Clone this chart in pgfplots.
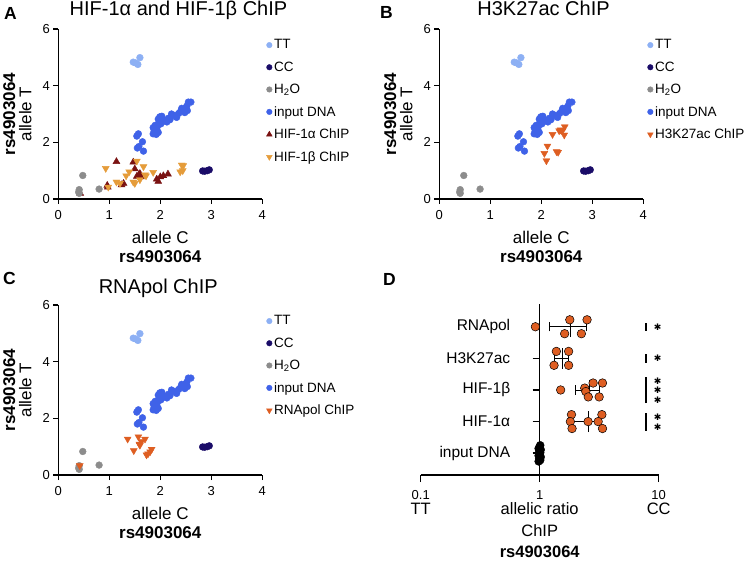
\documentclass[border=0pt]{standalone}
\usepackage{fontspec}
\setmainfont{Liberation Sans}
\newfontfamily\dejavu{DejaVu Sans}
\usepackage{pgfplots}
\pgfplotsset{compat=1.18}
\usepackage{pgfplotstable}

\definecolor{ttblue}{RGB}{141,176,244}
\definecolor{ccnavy}{RGB}{26,12,104}
\definecolor{h2ogray}{RGB}{140,140,140}
\definecolor{inblue}{RGB}{63,98,232}
\definecolor{hifa}{RGB}{122,18,18}
\definecolor{hifb}{RGB}{229,156,58}
\definecolor{chipor}{RGB}{222,94,34}

% shared data (allele C, allele T)
\pgfplotstableread{
x y
1.47 4.83
1.52 4.80
1.56 4.75
1.60 4.99
}\ttdata
\pgfplotstableread{
x y
2.83 0.99
2.87 0.98
2.92 1.00
2.96 1.03
}\ccdata
\pgfplotstableread{
x y
0.48 0.83
0.41 0.33
0.40 0.25
0.41 0.20
0.80 0.35
}\waterdata
\pgfplotstableread{
x y
1.54 2.22
1.57 2.30
1.55 1.80
1.65 2.02
1.67 1.69
1.58 1.85
1.86 2.30
1.88 2.40
1.86 2.52
1.90 2.60
1.93 2.45
1.92 2.28
1.96 2.35
1.96 2.82
1.99 2.90
2.03 2.92
2.06 2.80
2.10 2.75
2.13 2.72
2.16 2.85
2.19 2.80
2.22 3.00
2.27 2.95
2.32 2.88
2.36 3.02
2.40 3.10
2.42 3.20
2.46 3.15
2.48 3.05
2.50 3.22
2.52 3.28
2.55 3.42
2.60 3.42
2.53 3.12
1.98 2.72
2.01 2.65
1.94 2.55
}\indata
\pgfplotstableread{
x y
1.14 1.32
1.47 1.30
1.50 1.06
0.96 0.48
0.97 0.42
1.24 0.50
1.28 0.55
1.54 0.80
1.58 0.86
1.62 0.78
1.60 0.90
1.93 0.70
1.96 0.62
2.00 0.78
2.06 0.82
2.15 0.88
}\hifadata
\pgfplotstableread{
x y
0.93 1.08
0.98 0.42
1.14 0.60
1.21 0.55
1.33 0.82
1.39 0.96
1.47 0.60
1.50 0.55
1.54 1.34
1.60 0.68
1.67 1.14
1.70 0.85
1.72 0.82
1.86 0.94
2.39 0.96
2.42 1.20
2.45 1.18
2.44 1.00
}\hifbdata
\pgfplotstableread{
x y
2.06 1.61
2.10 1.35
2.12 1.87
2.22 2.28
2.30 1.67
2.33 1.65
2.35 2.41
2.38 2.44
2.41 2.40
2.45 2.26
2.46 2.55
}\hthreedata
\pgfplotstableread{
x y
0.42 0.33
1.36 1.27
1.48 0.86
1.57 1.35
1.59 1.09
1.63 1.18
1.60 1.05
1.70 1.27
1.73 0.71
1.76 0.75
1.80 0.82
1.83 0.91
}\rnapoldata

\tikzset{
  ttl/.style={anchor=base, inner sep=0pt, font=\fontsize{20}{22}\selectfont},
  plet/.style={anchor=base west, inner sep=0pt, font=\fontsize{17.5}{19}\selectfont\bfseries},
}

\pgfplotsset{
  scat/.style={
    scale only axis, width=204pt, height=170pt,
    xmin=0, xmax=4, ymin=0, ymax=6,
    axis lines=left,
    axis line style={line width=1.5pt, -},
    tick style={line width=1.5pt, black},
    tick align=outside, major tick length=5pt,
    xtick={0,1,2,3,4}, ytick={0,2,4,6},
    ticklabel style={font=\fontsize{13}{15}\selectfont},
    xticklabel style={yshift=-3pt},
    /pgf/number format/assume math mode=true,
    clip=false,
    xlabel={allele C\\\textbf{rs4903064}},
    ylabel={allele T},
    xlabel style={align=center, font=\fontsize{17}{18.4}\selectfont,
      at={(axis description cs:0.5,-0.19)}, anchor=north, inner sep=0pt},
    ylabel style={font=\fontsize{17}{19}\selectfont,
      at={(axis description cs:-0.132,0.5)}, anchor=base, inner sep=0pt},
    legend style={draw=none, fill=none, at={(axis description cs:1.0,0.95)},
      xshift=4pt, anchor=north west, font=\fontsize{13.5}{16}\selectfont,
      row sep=7.3pt, inner sep=0pt},
    legend cell align=left,
    legend image code/.code={\draw[mark repeat=2,mark phase=2]
      plot coordinates {(0pt,0pt) (3.5pt,0pt) (9pt,0pt)};},
    legend image post style={every mark/.append style={scale=0.82}},
  },
  ptt/.style={only marks, mark=*, mark size=3.4pt, color=ttblue},
  pcc/.style={only marks, mark=*, mark size=3.4pt, color=ccnavy},
  pwat/.style={only marks, mark=*, mark size=3.4pt, color=h2ogray},
  pin/.style={only marks, mark=*, mark size=3.4pt, color=inblue},
  ptri/.style={only marks, mark=triangle*, mark size=4pt, color=#1},
  pdown/.style={only marks, mark=triangle*, mark size=4pt, color=#1,
    mark options={rotate=180}},
}

\newcommand{\common}{%
  \addplot[ptt] table {\ttdata};
  \addlegendentry{TT}
  \addplot[pcc] table {\ccdata};
  \addlegendentry{CC}
  \addplot[pwat] table {\waterdata};
  \addlegendentry{H\textsubscript{2}O}
  \addplot[pin] table {\indata};
  \addlegendentry{input DNA}
  \node[rotate=90, anchor=base, inner sep=0pt, font=\fontsize{17}{19}\selectfont\bfseries]
    at (axis description cs:-0.212,0.5) {rs4903064};
}

\begin{document}
\begin{tikzpicture}
\useasboundingbox (0pt,0pt) rectangle (752pt,560pt);

% panel letters
\node[plet] at (4pt,540.7pt) {A};
\node[plet] at (380pt,541.7pt) {B};
\node[plet] at (3pt,275pt) {C};
\node[plet] at (383pt,274pt) {D};

% A
\begin{axis}[scat, at={(58.3pt,361pt)}, anchor=south west]
\addplot[ptri=hifa, forget plot] coordinates {(0.43,0.2)};
\common
\addplot[ptri=hifa] table {\hifadata};
\addlegendentry{HIF-1α ChIP}
\addplot[pdown=hifb] table {\hifbdata};
\addlegendentry{HIF-1β ChIP}
\node[ttl, yshift=14pt] at (axis description cs:0.589,1) {HIF-1α and HIF-1β ChIP};
\end{axis}

% B
\begin{axis}[scat, at={(439.3pt,361pt)}, anchor=south west]
\common
\addplot[pdown=chipor] table {\hthreedata};
\addlegendentry{H3K27ac ChIP}
\node[ttl, yshift=14pt] at (axis description cs:0.511,1) {H3K27ac ChIP};
\end{axis}

% C
\begin{axis}[scat, at={(58.3pt,85pt)}, anchor=south west]
\common
\addplot[pdown=chipor] table {\rnapoldata};
\addlegendentry{RNApol ChIP}
\node[ttl, yshift=11.7pt] at (axis description cs:0.49,1) {RNApol ChIP};
\end{axis}

% D
\begin{axis}[at={(420.7pt,85pt)}, anchor=south west,
  scale only axis, width=238pt, height=171pt,
  xmode=log, xmin=0.1, xmax=10, ymin=-0.69, ymax=4.72,
  axis x line=bottom, axis y line=center,
  axis line style={line width=1.5pt, -},
  tick style={line width=1.5pt, black},
  tick align=outside, major tick length=7pt,
  xminorticks=false,
  xtick={0.1,1,10},
  xticklabels={0.1,1,10},
  xticklabel style={font=\fontsize{13}{15}\selectfont, anchor=north, yshift=-5pt},
  ytick={0,1,2,3,4},
  yticklabels={input DNA, HIF-1α, HIF-1β, H3K27ac, RNApol},
  yticklabel style={font=\fontsize{15.5}{17}\selectfont, anchor=east, xshift=-19pt},
  xlabel={allelic ratio\\ChIP\\\textbf{rs4903064}},
  xlabel style={align=center, font=\fontsize{16.5}{21.5}\selectfont,
    at={(axis description cs:0.5,-0.16)}, anchor=north, inner sep=0pt},
  clip=false]
% input DNA
\addplot[only marks, mark=*, mark size=4pt, black] coordinates {
  (0.98,-0.26) (1.01,-0.22) (0.99,-0.17) (1.02,-0.12) (0.98,-0.08)
  (1.00,-0.03) (1.01,0.02) (0.99,0.07) (1.02,0.11) (0.98,0.15)
  (1.00,0.20) (1.01,0.25)};
% ChIP points
\addplot[only marks, mark=*, mark size=4.3pt,
  mark options={fill=chipor, draw=black, line width=0.5pt}] coordinates {
  (0.92,4.0) (1.79,4.22) (2.5,4.22) (1.62,3.78) (2.24,3.78)
  (1.38,3.22) (1.75,3.22) (1.32,2.78) (1.75,2.78)
  (1.50,2.0) (2.39,2.06) (2.44,1.95) (2.81,2.22) (3.37,2.22) (2.56,1.78) (3.16,1.78)
  (1.85,1.22) (3.33,1.22) (1.81,1.0) (2.55,1.0) (3.1,1.0) (1.87,0.78) (3.37,0.78)};
% mean +- SD
\addplot[black, line width=0.7pt] coordinates {(1.2,4) (2.45,4)};
\addplot[black, line width=0.7pt] coordinates {(1.2,3.85) (1.2,4.15)};
\addplot[black, line width=0.7pt] coordinates {(2.45,3.85) (2.45,4.15)};
\addplot[black, line width=1pt] coordinates {(1.8,3.67) (1.8,4.33)};
\addplot[black, line width=0.7pt] coordinates {(1.34,3) (1.75,3)};
\addplot[black, line width=0.7pt] coordinates {(1.34,2.85) (1.34,3.15)};
\addplot[black, line width=0.7pt] coordinates {(1.75,2.85) (1.75,3.15)};
\addplot[black, line width=1pt] coordinates {(1.54,2.67) (1.54,3.33)};
\addplot[black, line width=0.7pt] coordinates {(2.0,2) (3.2,2)};
\addplot[black, line width=0.7pt] coordinates {(2.0,1.85) (2.0,2.15)};
\addplot[black, line width=0.7pt] coordinates {(3.2,1.85) (3.2,2.15)};
\addplot[black, line width=1pt] coordinates {(2.6,1.67) (2.6,2.33)};
\addplot[black, line width=0.7pt] coordinates {(1.79,1) (3.2,1)};
\addplot[black, line width=0.7pt] coordinates {(1.79,0.85) (1.79,1.15)};
\addplot[black, line width=0.7pt] coordinates {(3.2,0.85) (3.2,1.15)};
\addplot[black, line width=1pt] coordinates {(2.55,0.67) (2.55,1.33)};
% TT / CC ends of the ratio axis
\node[anchor=base, inner sep=0pt, font=\fontsize{16.5}{18}\selectfont, yshift=-39.3pt]
  at (axis description cs:0,0) {TT};
\node[anchor=base, inner sep=0pt, font=\fontsize{16.5}{18}\selectfont, yshift=-39.3pt]
  at (axis description cs:1,0) {CC};
% significance
\draw[line width=1.5pt] (axis cs:7.8,3.87) -- (axis cs:7.8,4.13);
\draw[line width=1.5pt] (axis cs:7.8,2.86) -- (axis cs:7.8,3.14);
\draw[line width=1.5pt] (axis cs:7.8,1.58) -- (axis cs:7.8,2.42);
\draw[line width=1.5pt] (axis cs:7.8,0.71) -- (axis cs:7.8,1.27);
\pgfplotsinvokeforeach{4.0,3.0,2.28,1.98,1.68,1.14,0.82}{
  \node[inner sep=0pt, font=\fontsize{9}{9}\dejavu] at (axis cs:9.8,#1) {✱};
}
\end{axis}
\end{tikzpicture}
\end{document}
